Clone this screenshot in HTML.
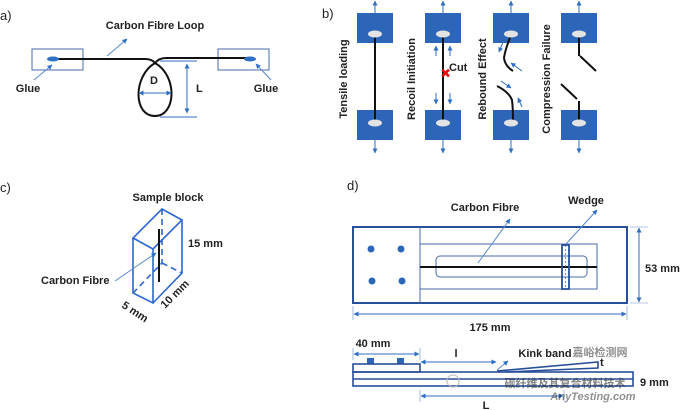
<!DOCTYPE html>
<html><head><meta charset="utf-8"><style>
body{margin:0;background:#fff}
svg{display:block}
text{font-family:"Liberation Sans",sans-serif;font-size:11px;font-weight:bold;fill:#222}
.t{font-weight:normal;font-size:13px}
</style></head><body>
<svg width="680" height="410" viewBox="0 0 680 410" xmlns="http://www.w3.org/2000/svg">
<defs>
<marker id="a" viewBox="0 0 10 10" refX="9" refY="5" markerWidth="5" markerHeight="5" orient="auto-start-reverse"><path d="M0,0L10,5L0,10z" fill="#2f6fc4"/></marker>
</defs>
<!-- a -->
<text class="t" x="0" y="20">a)</text>
<text x="155" y="29" text-anchor="middle">Carbon Fibre Loop</text>
<rect x="32" y="49" width="51" height="21" fill="none" stroke="#4a6aa8" stroke-width="1"/>
<rect x="218" y="49" width="51" height="21" fill="none" stroke="#4a6aa8" stroke-width="1"/>
<path d="M52 59 L145 59 Q152 59 155 63 C178 76 176 116 155 116 C133 116 133 76 155 63 Q159 58 166 58 L252 58" fill="none" stroke="#111" stroke-width="2"/>
<ellipse cx="53" cy="59" rx="6" ry="2.5" fill="#2f6fc4"/>
<ellipse cx="250" cy="59" rx="6" ry="2.5" fill="#2f6fc4"/>
<line x1="107" y1="56" x2="127" y2="39" stroke="#5a8ad0" marker-end="url(#a)"/>
<line x1="34" y1="80" x2="52" y2="65" stroke="#5a8ad0" marker-end="url(#a)"/>
<line x1="271" y1="80" x2="256" y2="64" stroke="#5a8ad0" marker-end="url(#a)"/>
<text x="28" y="92" text-anchor="middle">Glue</text>
<text x="266" y="92" text-anchor="middle">Glue</text>
<text x="154" y="84" text-anchor="middle">D</text>
<line x1="139" y1="93" x2="171" y2="93" stroke="#2f6fc4" marker-start="url(#a)" marker-end="url(#a)"/>
<line x1="160" y1="61" x2="197" y2="61" stroke="#2f6fc4"/>
<line x1="160" y1="117" x2="197" y2="117" stroke="#2f6fc4"/>
<line x1="187" y1="64" x2="187" y2="113" stroke="#2f6fc4" marker-start="url(#a)" marker-end="url(#a)"/>
<text x="196" y="92">L</text>
<!-- b -->
<text class="t" x="322" y="18">b)</text>
<g fill="#2d66b9">
<rect x="357" y="13" width="36" height="30"/><rect x="425" y="13" width="36" height="30"/><rect x="493" y="13" width="36" height="30"/><rect x="561" y="13" width="36" height="30"/>
<rect x="357" y="110" width="36" height="30"/><rect x="425" y="110" width="36" height="30"/><rect x="493" y="110" width="36" height="30"/><rect x="561" y="110" width="36" height="30"/>
</g>
<g stroke="#2f6fc4" marker-end="url(#a)">
<line x1="375" y1="13" x2="375" y2="1"/><line x1="443" y1="13" x2="443" y2="1"/><line x1="511" y1="13" x2="511" y2="1"/><line x1="579" y1="13" x2="579" y2="1"/>
<line x1="375" y1="140" x2="375" y2="153"/><line x1="443" y1="140" x2="443" y2="153"/><line x1="511" y1="140" x2="511" y2="153"/><line x1="579" y1="140" x2="579" y2="153"/>
<line x1="436" y1="56" x2="436" y2="46"/><line x1="450" y1="56" x2="450" y2="46"/>
<line x1="436" y1="93" x2="436" y2="104"/><line x1="450" y1="93" x2="450" y2="104"/>
<line x1="503" y1="42" x2="499" y2="52"/><line x1="522" y1="71" x2="511" y2="63"/>
<line x1="501" y1="81" x2="511" y2="88"/><line x1="522" y1="107" x2="518" y2="98"/>
</g>
<g stroke="#111" stroke-width="2" fill="none">
<line x1="375" y1="35" x2="375" y2="122"/>
<line x1="443" y1="35" x2="443" y2="122"/>
<path d="M511 35 Q505 50 504 58 Q505 66 513 71"/>
<path d="M497 86 Q509 92 512 100 Q513 108 513 122"/>
<line x1="579" y1="35" x2="579" y2="56"/><line x1="580" y1="56" x2="596" y2="71"/>
<line x1="561" y1="84" x2="577" y2="99"/><line x1="579" y1="101" x2="579" y2="122"/>
</g>
<g fill="#e3e3e3">
<ellipse cx="375" cy="34" rx="7" ry="3.5"/><ellipse cx="443" cy="34" rx="7" ry="3.5"/><ellipse cx="511" cy="34" rx="7" ry="3.5"/><ellipse cx="579" cy="34" rx="7" ry="3.5"/>
<ellipse cx="375" cy="123" rx="7" ry="3.5"/><ellipse cx="443" cy="123" rx="7" ry="3.5"/><ellipse cx="511" cy="123" rx="7" ry="3.5"/><ellipse cx="579" cy="123" rx="7" ry="3.5"/>
</g>
<text x="441" y="77" fill="#e00" stroke="#e00" font-size="12">✕</text>
<text x="449" y="71">Cut</text>
<text transform="translate(347,79) rotate(-90)" text-anchor="middle" font-size="11.5">Tensile loading</text>
<text transform="translate(415,79) rotate(-90)" text-anchor="middle" font-size="11.5">Recoil Initiation</text>
<text transform="translate(486,79) rotate(-90)" text-anchor="middle" font-size="11.5">Rebound Effect</text>
<text transform="translate(550,79) rotate(-90)" text-anchor="middle" font-size="11.5">Compression Failure</text>
<!-- c -->
<text class="t" x="0" y="192">c)</text>
<text x="168" y="201" text-anchor="middle">Sample block</text>
<g stroke="#2d66d0" stroke-width="1.6" fill="none">
<path d="M133 238 L153 249 L182 220 L162 209 Z"/>
<path d="M133 238 L133 293 L153 303 L153 249"/>
<path d="M153 303 L182 273 L182 220"/>
<path d="M162 209 L162 263 L133 293 M162 263 L182 273" stroke-dasharray="6,4"/>
</g>
<line x1="159" y1="229" x2="159" y2="282" stroke="#111" stroke-width="2"/>
<line x1="115" y1="281" x2="156" y2="253" stroke="#5a8ad0" marker-end="url(#a)"/>
<text x="41" y="284">Carbon Fibre</text>
<text x="188" y="247">15 mm</text>
<text transform="translate(121,307) rotate(33)">5 mm</text>
<text transform="translate(165,309) rotate(-45)">10 mm</text>
<!-- d -->
<text class="t" x="347" y="190">d)</text>
<text x="485" y="211" text-anchor="middle">Carbon Fibre</text>
<text x="586" y="204" text-anchor="middle">Wedge</text>
<rect x="353" y="227" width="274" height="76" fill="none" stroke="#284f9a" stroke-width="2"/>
<line x1="420" y1="227" x2="420" y2="303" stroke="#4a6aa8"/>
<rect x="420" y="244" width="177" height="45" fill="none" stroke="#4a6aa8"/>
<rect x="436" y="256" width="151" height="21" rx="4" fill="none" stroke="#4a6aa8"/>
<line x1="420" y1="267" x2="597" y2="267" stroke="#111" stroke-width="2"/>
<rect x="562" y="245" width="7" height="44" fill="none" stroke="#284f9a" stroke-width="1.8"/>
<line x1="565.5" y1="245" x2="565.5" y2="289" stroke="#4a6aa8" stroke-dasharray="2,2" stroke-width=".8"/>
<g fill="#2d66b9"><circle cx="371" cy="249" r="3.5"/><circle cx="401" cy="249" r="3.5"/><circle cx="372" cy="281" r="3.5"/><circle cx="402" cy="281" r="3.5"/></g>
<line x1="478" y1="263" x2="510" y2="219" stroke="#5a8ad0" marker-end="url(#a)"/>
<line x1="566" y1="244" x2="597" y2="210" stroke="#5a8ad0" marker-end="url(#a)"/>
<line x1="639" y1="228" x2="639" y2="302" stroke="#2f6fc4" marker-start="url(#a)" marker-end="url(#a)"/>
<line x1="630" y1="227" x2="648" y2="227" stroke="#6a8ad0" stroke-width=".6"/>
<line x1="630" y1="303" x2="648" y2="303" stroke="#6a8ad0" stroke-width=".6"/>
<text x="645" y="272">53 mm</text>
<line x1="354" y1="314" x2="626" y2="314" stroke="#2f6fc4" marker-start="url(#a)" marker-end="url(#a)"/>
<line x1="353" y1="306" x2="353" y2="320" stroke="#6a8ad0" stroke-width=".6"/>
<line x1="627" y1="306" x2="627" y2="320" stroke="#6a8ad0" stroke-width=".6"/>
<text x="490" y="331" text-anchor="middle">175 mm</text>
<!-- side view -->
<text x="373" y="347" text-anchor="middle">40 mm</text>
<line x1="354" y1="354" x2="419" y2="354" stroke="#2f6fc4" marker-start="url(#a)" marker-end="url(#a)"/>
<line x1="353" y1="348" x2="353" y2="360" stroke="#6a8ad0" stroke-width=".6"/>
<line x1="420" y1="348" x2="420" y2="360" stroke="#6a8ad0" stroke-width=".6"/>
<text x="456" y="357" text-anchor="middle">l</text>
<line x1="421" y1="362" x2="496" y2="362" stroke="#2f6fc4" marker-start="url(#a)" marker-end="url(#a)"/>
<text x="545" y="357" text-anchor="middle">Kink band</text>
<line x1="497" y1="370" x2="508" y2="361" stroke="#5a8ad0" marker-end="url(#a)"/>
<g fill="#2d66b9"><rect x="367" y="358" width="7" height="6"/><rect x="397" y="358" width="7" height="6"/></g>
<g stroke="#284f9a" stroke-width="1.6" fill="none">
<rect x="353" y="364" width="67" height="8"/>
<rect x="353" y="372" width="280" height="14"/>
<line x1="353" y1="379" x2="633" y2="379"/>
<path d="M497 371 L598 362 L598 368 L505 372"/>
</g>
<text x="600" y="366" font-size="8" font-weight="normal">t</text>
<line x1="421" y1="396" x2="563" y2="396" stroke="#2f6fc4" marker-start="url(#a)" marker-end="url(#a)"/>
<line x1="420" y1="390" x2="420" y2="402" stroke="#6a8ad0" stroke-width=".6"/>
<line x1="564" y1="390" x2="564" y2="402" stroke="#6a8ad0" stroke-width=".6"/>
<text x="486" y="409" text-anchor="middle">L</text>
<text x="640" y="386" font-weight="normal" font-size="10">9 mm</text>
<circle cx="453" cy="381" r="6" fill="none" stroke="#bbb" stroke-width="1.5" opacity=".7"/>
<text x="565" y="387" font-size="17" fill="#aaa" opacity=".55" style="font-family:'Liberation Sans','Noto Sans CJK SC',sans-serif" text-anchor="middle">碳纤维及其复合材料技术</text>
<text x="600" y="356" font-size="22" fill="#ccc" opacity=".5" style="font-family:'Liberation Sans','Noto Sans CJK SC',sans-serif" text-anchor="middle">嘉峪检测网</text>
<text x="593" y="400" font-size="16" fill="#ccc" opacity=".5" font-style="italic" text-anchor="middle">AnyTesting.com</text>
</svg>
</body></html>
